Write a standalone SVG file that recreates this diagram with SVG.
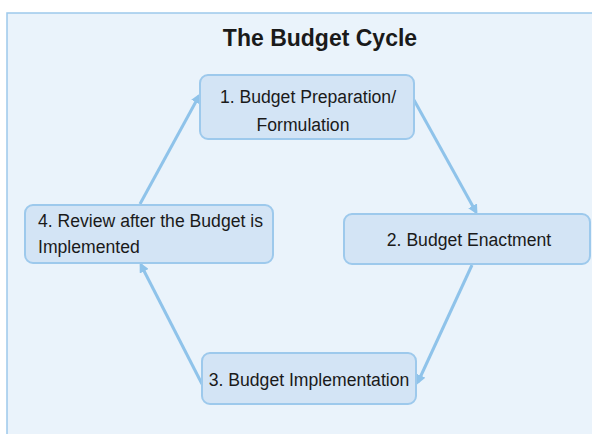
<svg xmlns="http://www.w3.org/2000/svg" width="592" height="434" viewBox="0 0 592 434">
<defs>
<style>
.node{fill:#d3e4f5;stroke:#9dc9ec;stroke-width:2}
.lbl{font-family:"Liberation Sans",Arial,sans-serif;font-size:17.6px;fill:#1a1a1a}
.conn{stroke:#8fc3ea;stroke-width:3;fill:none}
</style>
<marker id="ah" markerWidth="10" markerHeight="10" refX="7" refY="5" orient="auto" markerUnits="userSpaceOnUse">
<path d="M0,0 L10,5 L0,10 Z" fill="#8fc3ea"/>
</marker>
</defs>
<rect x="7" y="13" width="600" height="440" fill="#eaf3fb" stroke="#9dc9ec" stroke-width="1.5"/>
<text x="320" y="46" text-anchor="middle" font-family="'Liberation Sans',Arial,sans-serif" font-size="23" font-weight="bold" fill="#1a1a1a">The Budget Cycle</text>
<g id="connectors">
<line class="conn" x1="414" y1="100" x2="476" y2="212" marker-end="url(#ah)"/>
<line class="conn" x1="472" y1="265" x2="418" y2="382" marker-end="url(#ah)"/>
<line class="conn" x1="202" y1="384" x2="141" y2="265" marker-end="url(#ah)"/>
<line class="conn" x1="140" y1="204" x2="199" y2="96" marker-end="url(#ah)"/>
</g>
<g id="n1">
<rect class="node" x="200" y="75" width="214" height="64" rx="8"/>
<text class="lbl" x="308" y="103" text-anchor="middle">1. Budget Preparation/</text>
<text class="lbl" x="303" y="131" text-anchor="middle">Formulation</text>
</g>
<g id="n2">
<rect class="node" x="344" y="214" width="246" height="50" rx="8"/>
<text class="lbl" x="469" y="246" text-anchor="middle">2. Budget Enactment</text>
</g>
<g id="n3">
<rect class="node" x="202" y="353" width="214" height="51" rx="8"/>
<text class="lbl" x="309" y="386" text-anchor="middle">3. Budget Implementation</text>
</g>
<g id="n4">
<rect class="node" x="25" y="205" width="248" height="58" rx="8"/>
<text class="lbl" x="38" y="227">4. Review after the Budget is</text>
<text class="lbl" x="38" y="253">Implemented</text>
</g>
</svg>
